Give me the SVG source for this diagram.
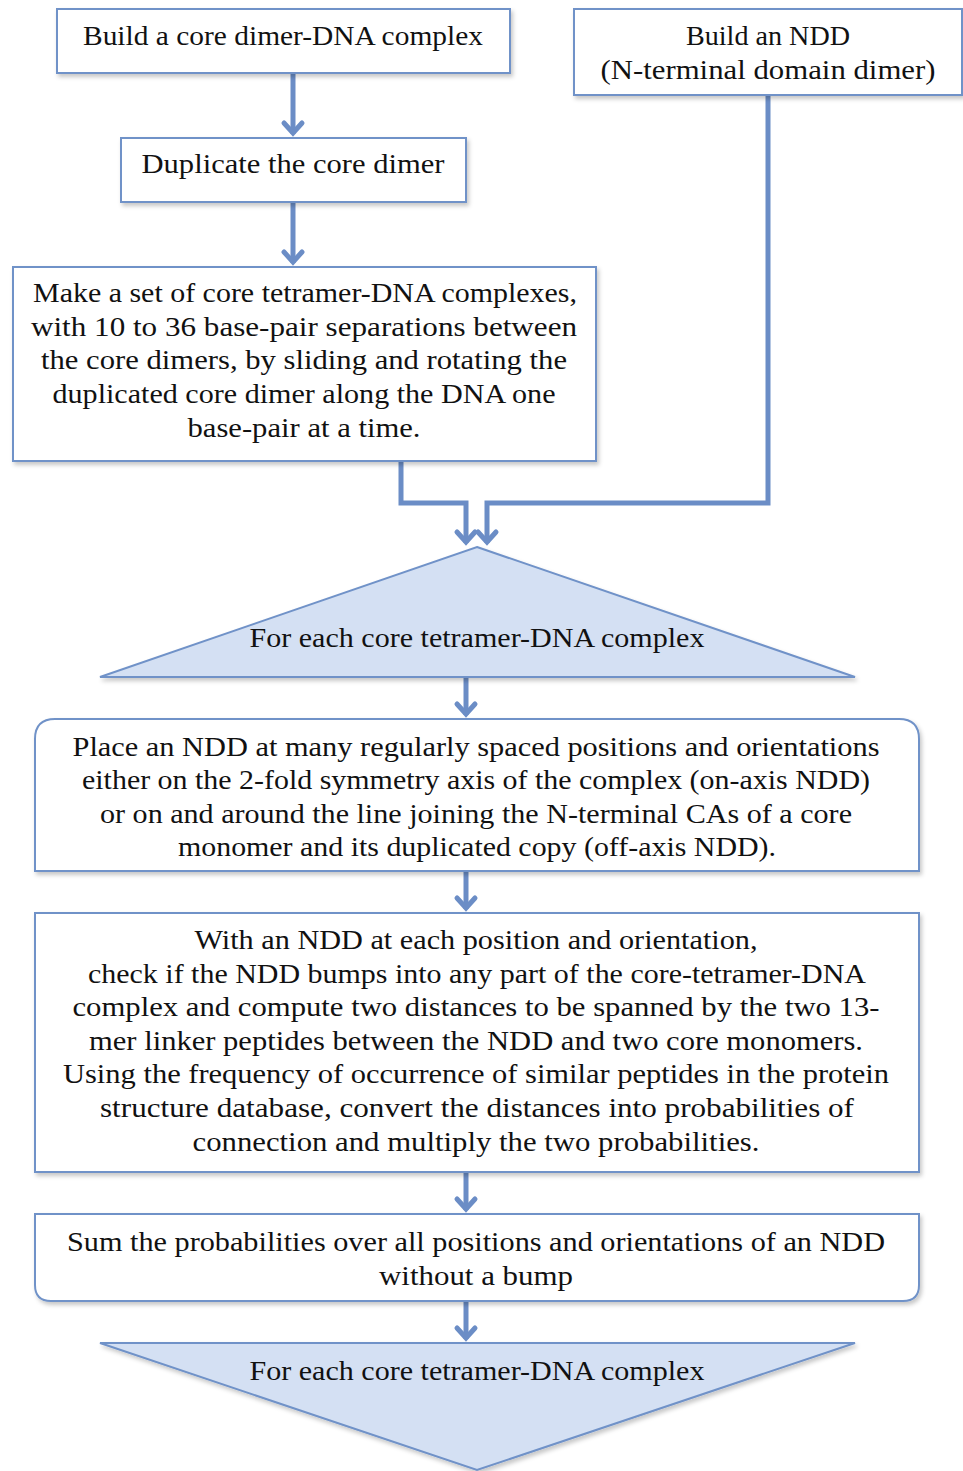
<svg xmlns="http://www.w3.org/2000/svg" width="963" height="1471" viewBox="0 0 963 1471">
<style>
.box{fill:#ffffff;stroke:#7092c8;stroke-width:2;filter:url(#sh)}
.tri{fill:#d4e0f3;stroke:#7092c8;stroke-width:2;filter:url(#sh)}
.t{font-family:"Liberation Serif","DejaVu Serif",serif;font-size:27px;fill:#111111;text-anchor:middle}
.c{fill:none;stroke:#6b8dc6;stroke-width:5;stroke-linejoin:miter}
</style>
<defs>
<filter id="sh" x="-5%" y="-10%" width="110%" height="130%">
<feDropShadow dx="2" dy="3" stdDeviation="2" flood-color="#000000" flood-opacity="0.22"/>
</filter>
<marker id="ah" markerUnits="userSpaceOnUse" markerWidth="30" markerHeight="30" viewBox="-15 -15 30 30" refX="0" refY="0" orient="auto">
<path d="M-11,-9 L-1,0 L-11,9" fill="none" stroke="#6b8dc6" stroke-width="5" stroke-linecap="round" stroke-linejoin="miter"/>
</marker>
</defs>

<g id="connectors">
<path class="c" d="M293,74 V134" marker-end="url(#ah)"/>
<path class="c" d="M293,203 V263" marker-end="url(#ah)"/>
<path class="c" d="M401,462 V503 H466 V543" marker-end="url(#ah)"/>
<path class="c" d="M768,96 V503 H487 V543" marker-end="url(#ah)"/>
<path class="c" d="M466,678 V715" marker-end="url(#ah)"/>
<path class="c" d="M466,872 V909" marker-end="url(#ah)"/>
<path class="c" d="M466,1173 V1210" marker-end="url(#ah)"/>
<path class="c" d="M466,1302 V1339" marker-end="url(#ah)"/>
</g>

<g id="n1">
<rect class="box" x="57" y="9" width="453" height="64"/>
<text class="t" x="283" y="45" textLength="400" lengthAdjust="spacingAndGlyphs">Build a core dimer-DNA complex</text>
</g>

<g id="n2">
<rect class="box" x="574" y="9" width="388" height="86"/>
<text class="t" x="768" y="45" textLength="164" lengthAdjust="spacingAndGlyphs">Build an NDD</text>
<text class="t" x="768" y="79" textLength="335" lengthAdjust="spacingAndGlyphs">(N-terminal domain dimer)</text>
</g>

<g id="n3">
<rect class="box" x="121" y="138" width="345" height="64"/>
<text class="t" x="293" y="173" textLength="303" lengthAdjust="spacingAndGlyphs">Duplicate the core dimer</text>
</g>

<g id="n4">
<rect class="box" x="13" y="267" width="583" height="194"/>
<text class="t" x="305" y="302" textLength="544" lengthAdjust="spacingAndGlyphs">Make a set of core tetramer-DNA complexes,</text>
<text class="t" x="304" y="336" textLength="546" lengthAdjust="spacingAndGlyphs">with 10 to 36 base-pair separations between</text>
<text class="t" x="304" y="369" textLength="526" lengthAdjust="spacingAndGlyphs">the core dimers, by sliding and rotating the</text>
<text class="t" x="304" y="403" textLength="503" lengthAdjust="spacingAndGlyphs">duplicated core dimer along the DNA one</text>
<text class="t" x="304" y="437" textLength="233" lengthAdjust="spacingAndGlyphs">base-pair at a time.</text>
</g>

<g id="n5">
<polygon class="tri" points="477,547 855,677 100,677"/>
<text class="t" x="477" y="647" textLength="455" lengthAdjust="spacingAndGlyphs">For each core tetramer-DNA complex</text>
</g>

<g id="n6">
<path class="box" d="M35,871 V739 Q35,719 55,719 H899 Q919,719 919,739 V871 Z"/>
<text class="t" x="476" y="756" textLength="807" lengthAdjust="spacingAndGlyphs">Place an NDD at many regularly spaced positions and orientations</text>
<text class="t" x="476" y="789" textLength="788" lengthAdjust="spacingAndGlyphs">either on the 2-fold symmetry axis of the complex (on-axis NDD)</text>
<text class="t" x="476" y="823" textLength="752" lengthAdjust="spacingAndGlyphs">or on and around the line joining the N-terminal CAs of a core</text>
<text class="t" x="477" y="856" textLength="598" lengthAdjust="spacingAndGlyphs">monomer and its duplicated copy (off-axis NDD).</text>
</g>

<g id="n7">
<rect class="box" x="35" y="913" width="884" height="259"/>
<text class="t" x="476" y="949" textLength="563" lengthAdjust="spacingAndGlyphs">With an NDD at each position and orientation,</text>
<text class="t" x="477" y="983" textLength="778" lengthAdjust="spacingAndGlyphs">check if the NDD bumps into any part of the core-tetramer-DNA</text>
<text class="t" x="476" y="1016" textLength="807" lengthAdjust="spacingAndGlyphs">complex and compute two distances to be spanned by the two 13-</text>
<text class="t" x="476" y="1050" textLength="774" lengthAdjust="spacingAndGlyphs">mer linker peptides between the NDD and two core monomers.</text>
<text class="t" x="476" y="1083" textLength="826" lengthAdjust="spacingAndGlyphs">Using the frequency of occurrence of similar peptides in the protein</text>
<text class="t" x="477" y="1117" textLength="754" lengthAdjust="spacingAndGlyphs">structure database, convert the distances into probabilities of</text>
<text class="t" x="476" y="1151" textLength="567" lengthAdjust="spacingAndGlyphs">connection and multiply the two probabilities.</text>
</g>

<g id="n8">
<path class="box" d="M35,1214 H919 V1285 Q919,1301 903,1301 H51 Q35,1301 35,1285 Z"/>
<text class="t" x="476" y="1251" textLength="818" lengthAdjust="spacingAndGlyphs">Sum the probabilities over all positions and orientations of an NDD</text>
<text class="t" x="476" y="1285" textLength="194" lengthAdjust="spacingAndGlyphs">without a bump</text>
</g>

<g id="n9">
<polygon class="tri" points="100,1343 855,1343 477,1470"/>
<text class="t" x="477" y="1380" textLength="455" lengthAdjust="spacingAndGlyphs">For each core tetramer-DNA complex</text>
</g>
</svg>
